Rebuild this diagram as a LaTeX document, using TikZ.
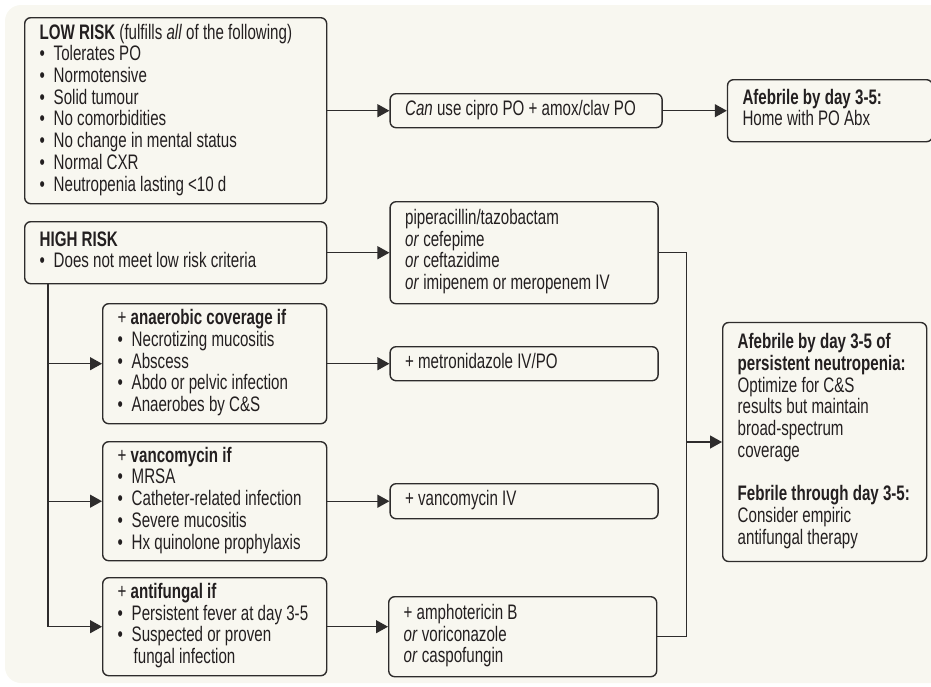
\documentclass[tikz,border=0pt]{standalone}
\usepackage{fontspec}
\setmainfont{Liberation Sans}[FakeStretch=0.72]
\usetikzlibrary{arrows.meta, positioning}

\definecolor{bgcream}{HTML}{F8F7F0}
\definecolor{linegray}{HTML}{2E2C2C}
\definecolor{inkblack}{HTML}{231F20}

% bullet with hanging gap
\newcommand{\bul}{\makebox[14pt][l]{\textbullet}}
% left-aligned lines in a box of fixed inner width (no line breaking)
\newcommand{\boxlines}[2]{\makebox[#1][l]{\begin{tabular}{@{}l@{}}#2\end{tabular}}}

\begin{document}
\begin{tikzpicture}[
    x=1pt, y=-1pt,
    node distance=62pt,
    every node/.style={font=\fontsize{21}{21.7}\selectfont, text=inkblack},
    box/.style={rectangle, draw=linegray, line width=1.4pt, fill=bgcream, rounded corners=6pt,
                inner xsep=15pt, inner ysep=0pt},
    line/.style={draw=linegray, line width=1.3pt},
    arrow/.style={line, -{Triangle[length=12pt, width=13pt]}}
]

\useasboundingbox (0,0) rectangle (931,686);
\fill[bgcream, rounded corners=16pt] (5,5) rectangle (970,683);

% ============ LOW RISK (TOP) ============
\node[box, anchor=north west, minimum height=186pt] (lowrisk) at (24,17) {\boxlines{272pt}{
    \textbf{LOW RISK} (fulfills \textit{all} of the following)\\
    \bul Tolerates PO\\
    \bul Normotensive\\
    \bul Solid tumour\\
    \bul No comorbidities\\
    \bul No change in mental status\\
    \bul Normal CXR\\
    \bul Neutropenia lasting <10 d}};

\node[box, minimum height=34pt, right=62pt of lowrisk] (cipro)
    {\boxlines{242pt}{\textit{Can} use cipro PO + amox/clav PO}};

\node[box, minimum height=62pt, right=64pt of cipro] (afebhome)
    {\boxlines{175pt}{\textbf{Afebrile by day 3-5:}\\Home with PO Abx}};

\draw[arrow] (lowrisk) -- (cipro);
\draw[arrow] (cipro) -- (afebhome);

% ============ HIGH RISK (BOTTOM) ============
\node[box, anchor=north west, minimum height=62pt] (highrisk) at (24,221) {\boxlines{272pt}{
    \textbf{HIGH RISK}\\
    \bul Does not meet low risk criteria}};

\node[box, minimum height=102pt, right=62pt of highrisk] (empiric) {\boxlines{238pt}{
    piperacillin/tazobactam\\
    \textit{or} cefepime\\
    \textit{or} ceftazidime\\
    \textit{or} imipenem or meropenem IV}};

% add-on criteria
\node[box, anchor=north west, minimum height=120pt] (anaerobic) at (102,303) {\boxlines{194pt}{
    + \textbf{anaerobic coverage if}\\
    \bul Necrotizing mucositis\\
    \bul Abscess\\
    \bul Abdo or pelvic infection\\
    \bul Anaerobes by C\&S}};

\node[box, anchor=north west, minimum height=119pt] (vanccond) at (102,441) {\boxlines{194pt}{
    + \textbf{vancomycin if}\\
    \bul MRSA\\
    \bul Catheter-related infection\\
    \bul Severe mucositis\\
    \bul Hx quinolone prophylaxis}};

\node[box, anchor=north west, minimum height=98pt] (fungcond) at (102,577) {\boxlines{194pt}{
    + \textbf{antifungal if}\\
    \bul Persistent fever at day 3-5\\
    \bul Suspected or proven\\
    \hspace{16pt}fungal infection}};

% add-on drugs
\node[box, minimum height=34pt, right=62pt of anaerobic] (metro)
    {\boxlines{238pt}{+ metronidazole IV/PO}};

\node[box, minimum height=35pt, right=62pt of vanccond] (vancomycin)
    {\boxlines{238pt}{+ vancomycin IV}};

\node[box, anchor=north west, minimum height=80pt] (antifungal) at (388,596) {\boxlines{238pt}{
    + amphotericin B\\
    \textit{or} voriconazole\\
    \textit{or} caspofungin}};

% outcome
\node[box, anchor=west, minimum height=239pt] (outcome) at (722,442) {\boxlines{174pt}{
    \textbf{Afebrile by day 3-5 of}\\
    \textbf{persistent neutropenia:}\\
    Optimize for C\&S\\
    results but maintain\\
    broad-spectrum\\
    coverage\\[21.7pt]
    \textbf{Febrile through day 3-5:}\\
    Consider empiric\\
    antifungal therapy}};

% Arrows for high risk
\coordinate (trunk) at ([xshift=24pt]highrisk.south west);
\coordinate (bus) at ([xshift=28pt]empiric.east);

\draw[arrow] (highrisk) -- (empiric);
\draw[arrow] (trunk) |- (anaerobic.west);
\draw[arrow] (trunk) |- (vanccond.west);
\draw[arrow] (trunk) |- (fungcond.west);
\draw[arrow] (anaerobic) -- (metro);
\draw[arrow] (vanccond) -- (vancomycin);
\draw[arrow] (fungcond.east) -- (fungcond.east -| antifungal.west);
\draw[line] (empiric.east) -- (bus) |- (antifungal.east);
\draw[arrow] (bus |- outcome.west) -- (outcome.west);

\end{tikzpicture}
\end{document}
